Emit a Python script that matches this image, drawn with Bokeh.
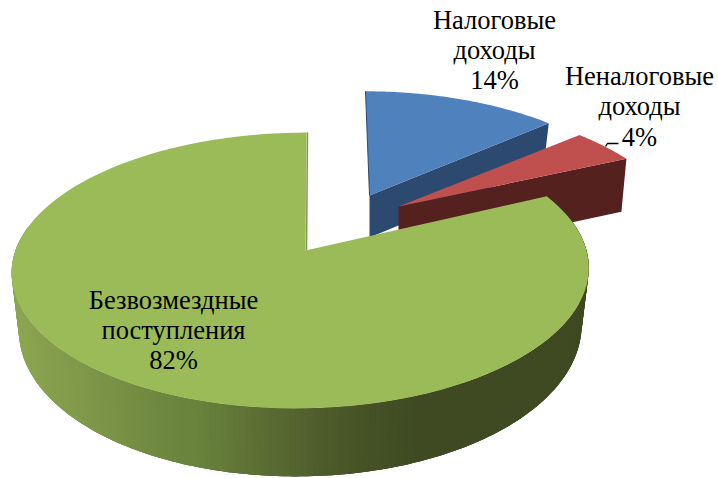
import math
from bokeh.plotting import figure
from bokeh.models import Range1d
from bokeh.core.properties import value
from bokeh.embed import file_html
from bokeh.resources import INLINE

# data
categories = ["Налоговые\nдоходы", "Неналоговые\nдоходы", "Безвозмездные\nпоступления"]
shares = [14, 4, 82]

# page-pixel frame
W, H = 718, 478
p = figure(width=W, height=H, output_backend="svg", toolbar_location=None,
           x_range=Range1d(0, W), y_range=Range1d(H, 0), min_border=0)
p.axis.visible = False
p.grid.visible = False
p.outline_line_color = None
p.background_fill_color = "white"

# slice angles, clockwise from the back of the pie
total = sum(shares)
angles = []
acc = 0.0
for s in shares:
    angles.append((acc / total * 2 * math.pi, (acc + s) / total * 2 * math.pi))
    acc += s

# per-slice projection: apex x, apex y, half width, half height, perspective, skew, shift
PROJ = [
    (369, 195, 279, 134, 0.286, -4.0, 0.0),
    (398, 206, 274, 112, 0.0, -47.0, 0.0),
    (305, 250, 285.5, 135, 0.145, 5.5, -4.5),
]

def top(i, th, r=1.0):
    x0, y0, b, a, k, s, c = PROJ[i]
    u, v = r * math.sin(th), r * math.cos(th)
    d = 1 + k * v
    return x0 + c * r + b * u / d + s * v, y0 - a * v / d

def bottom(i, th, depth=55.0, tilt=13.0, cx=300.5, shrink=0.025):
    x, y = top(i, th)
    return x - (x - cx) * shrink, y + depth - tilt * math.cos(th)

def sweep(i, a0, a1, n=120):
    return [a0 + (a1 - a0) * j / n for j in range(n + 1)]

def draw_top(i, color):
    a0, a1 = angles[i]
    pts = [top(i, t) for t in sweep(i, a0, a1)]
    ax, ay = top(i, 0, 0.0)
    xs = [ax] + [q[0] for q in pts]
    ys = [ay] + [q[1] for q in pts]
    p.patch(xs, ys, fill_color=color, line_color=None)

def draw_cut(i, th, color, depth):
    ax, ay = top(i, 0, 0.0)
    rx, ry = top(i, th)
    p.patch([ax, rx, rx - 5, ax], [ay, ry, ry + depth, ay + depth],
            fill_color=color, line_color=None)

# blue slice
draw_cut(0, angles[0][1], "#2C4A6F", 42)
draw_top(0, "#4F81BD")
bax, bay = top(0, 0, 0.0)
btx, bty = top(0, 0)
p.line([btx, bax], [bty, bay], line_color="#2C4A6F", line_width=1.0)

# red slice
draw_cut(1, angles[1][1], "#54211F", 53)
draw_top(1, "#C0504D")

# green slice: outer wall as a shaded band, each strip overlapping the next
STOPS = [(16, (140, 165, 82)), (100, (122, 147, 70)), (200, (103, 128, 59)),
         (300, (82, 97, 46)), (360, (70, 83, 38)), (420, (63, 73, 34)), (600, (63, 73, 34))]

def shade(x):
    for (x0, c0), (x1, c1) in zip(STOPS, STOPS[1:]):
        if x <= x1:
            t = max(0.0, (x - x0) / (x1 - x0))
            return "#%02x%02x%02x" % tuple(round(a + (b - a) * t) for a, b in zip(c0, c1))
    return "#%02x%02x%02x" % STOPS[-1][1]

g0, g1 = angles[2]
wall = sweep(2, g0, g0 + (g1 - g0) * 0.73, 200)
for j in range(len(wall) - 1):
    t0 = wall[j]
    t1 = wall[min(j + 3, len(wall) - 1)]
    mid = top(2, wall[j + 1])
    arc = [t0 + (t1 - t0) * m / 3 for m in range(4)]
    upper = [top(2, t) for t in arc]
    lower = [bottom(2, t) for t in reversed(arc)]
    col = shade(mid[0])
    p.patch([q[0] for q in upper + lower], [q[1] for q in upper + lower],
            fill_color=col, line_color=None)

draw_top(2, "#9BBB59")
gax, gay = top(2, 0, 0.0)
gtx, gty = top(2, g1)
p.line([gtx + 1, gax + 1], [gty, gay], line_color="#7E9A4C", line_width=1.5)

# labels
LAB = [(494, [19, 49, 79]), (639, [75, 105, 136]), (173, [299, 329, 359])]
for cat, sh, (lx, lys) in zip(categories, shares, LAB):
    lines = cat.split("\n") + [f"{sh}%"]
    p.text([lx] * 3, lys, text=lines, text_font=value("Liberation Serif"),
           text_font_size="26.5px", text_align="center", text_baseline="middle",
           text_color="#000000")

# leader for the 4% label
p.line([605, 607, 618], [146, 143, 143], line_color="#000000", line_width=1.3)

open("out.html", "w").write(file_html(p, INLINE))
